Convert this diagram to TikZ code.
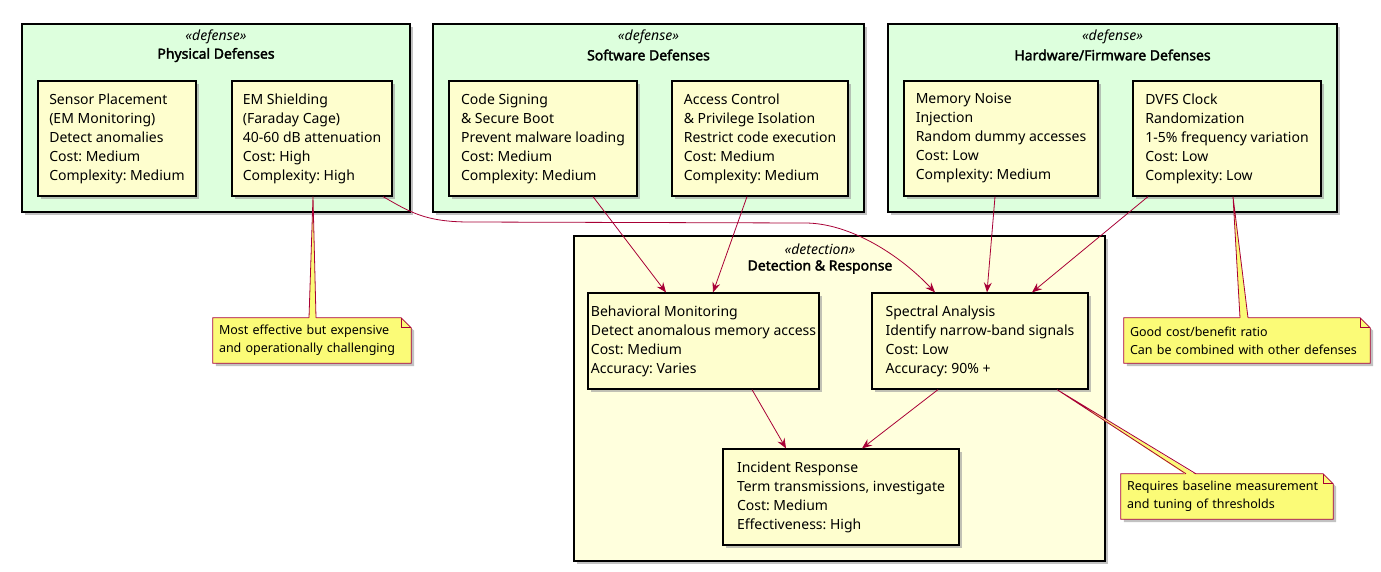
\documentclass[tikz,border=0pt]{standalone}
\usepackage{fontspec}
\setmainfont{Noto Sans}
\newfontfamily\fbold{Noto Sans}[FakeBold=2.2]
\usetikzlibrary{arrows.meta,shadows,calc}
\definecolor{pkgc}{HTML}{DDFFDD}
\definecolor{detc}{HTML}{FFFFDD}
\definecolor{boxc}{HTML}{FEFECE}
\definecolor{notec}{HTML}{FBFB77}
\definecolor{linkc}{HTML}{A80036}
\tikzset{
  shad/.style={drop shadow={shadow xshift=3pt,shadow yshift=-3pt,fill=black!40,opacity=0.6}},
  pkgbox/.style={draw=black, line width=1.2pt, fill=pkgc, inner sep=0pt, shad},
  itembox/.style={draw=black, line width=1.2pt, fill=boxc, inner sep=0pt, align=left,
     font=\fontsize{14}{19}\selectfont\frenchspacing, shad},
  stereo/.style={font=\fontsize{14}{16}\selectfont\itshape, inner sep=0pt},
  ptitle/.style={font=\fontsize{14}{16}\selectfont\fbold, inner sep=0pt},
  notetext/.style={inner xsep=6pt, inner ysep=0pt, align=left, font=\fontsize{12.5}{18}\selectfont\frenchspacing},
  link/.style={draw=linkc, line width=0.8pt, -{Stealth[length=10pt,width=8pt,inset=3.5pt]}},
  wedge/.style={fill=notec},
  wedgeline/.style={draw=linkc, line width=0.8pt},
}
\newcommand{\mynote}[1]{%
  \path[draw=linkc, line width=0.8pt, fill=notec, shad] (#1.north west) -- ([xshift=-10pt]#1.north east) -- ([yshift=-10pt]#1.north east) -- (#1.south east) -- (#1.south west) -- cycle;
  \draw[linkc, line width=0.8pt] ([xshift=-10pt]#1.north east) -- ([xshift=-10pt,yshift=-10pt]#1.north east) -- ([yshift=-10pt]#1.north east);
}
\begin{document}
\begin{tikzpicture}[x=1pt,y=-1pt]
\useasboundingbox (0,0) rectangle (1381,571);

% packages
\node[pkgbox, minimum width=388pt, minimum height=188pt] (phys) at (216,118) {};
\node[pkgbox, minimum width=431pt, minimum height=188pt] (soft) at (648.5,118) {};
\node[pkgbox, minimum width=449pt, minimum height=188pt] (hard) at (1112.5,118) {};
\node[pkgbox, fill=detc, minimum width=531pt, minimum height=325pt] (det) at (839.5,398.5) {};

\node[stereo] (physS) at (216,37) {«defense»};
\node[ptitle] (physT) at (216,55) {Physical Defenses};
\node[stereo] (softS) at (648.5,37) {«defense»};
\node[ptitle] (softT) at (648.5,55) {Software Defenses};
\node[stereo] (hardS) at (1112.5,37) {«defense»};
\node[ptitle] (hardT) at (1112.5,55) {Hardware/Firmware Defenses};
\node[stereo] (detS) at (820,249) {«detection»};
\node[ptitle] (detT) at (820,267) {Detection \& Response};

% items
\node[itembox, minimum width=158pt, minimum height=115pt] (sens) at (117,138.5)
  {Sensor Placement\\(EM Monitoring)\\Detect anomalies\\Cost: Medium\\Complexity: Medium};
\node[itembox, minimum width=160pt, minimum height=115pt] (ems) at (312,138.5)
  {EM Shielding\\(Faraday Cage)\\40-60 dB attenuation\\Cost: High\\Complexity: High};
\node[itembox, minimum width=188pt, minimum height=115pt] (code) at (543,138.5)
  {Code Signing\\\& Secure Boot\\Prevent malware loading\\Cost: Medium\\Complexity: Medium};
\node[itembox, minimum width=176pt, minimum height=115pt] (acc) at (760,138.5)
  {Access Control\\\& Privilege Isolation\\Restrict code execution\\Cost: Medium\\Complexity: Medium};
\node[itembox, minimum width=194pt, minimum height=115pt] (mem) at (1001,138.5)
  {Memory Noise\\Injection\\Random dummy accesses\\Cost: Low\\Complexity: Medium};
\node[itembox, minimum width=188pt, minimum height=115pt] (dvfs) at (1227,138.5)
  {DVFS Clock\\Randomization\\1-5\% frequency variation\\Cost: Low\\Complexity: Low};
\node[itembox, minimum width=231pt, minimum height=96pt] (beh) at (703.5,341)
  {Behavioral Monitoring\\Detect anomalous memory access\\Cost: Medium\\Accuracy: Varies};
\node[itembox, minimum width=216pt, minimum height=96pt] (spec) at (980,341)
  {Spectral Analysis\\Identify narrow-band signals\\Cost: Low\\Accuracy: 90\% +};
\node[itembox, minimum width=236pt, minimum height=96pt] (inc) at (841,497)
  {Incident Response\\Term transmissions, investigate\\Cost: Medium\\Effectiveness: High};

% links
\draw[link] ([xshift=50pt]code.south) -- ([xshift=-37.5pt]beh.north);
\draw[link] ([xshift=-13pt]acc.south) -- ([xshift=9.5pt]beh.north);
\draw[link] ([xshift=71pt]ems.south) .. controls (410,212) and (425,222) .. (470,222)
  -- (805,223) .. controls (850,223) and (900,255) .. ([xshift=-45pt]spec.north);
\draw[link] ([xshift=-6pt]mem.south) -- ([xshift=7pt]spec.north);
\draw[link] ([xshift=-79pt]dvfs.south) -- ([xshift=52pt]spec.north);
\draw[link] ([xshift=48.5pt]beh.south) -- ([xshift=-55pt]inc.north);
\draw[link] ([xshift=-42pt]spec.south) -- ([xshift=21pt]inc.north);

% notes
\node[notetext, text width=186pt, minimum height=45pt] (n1) at (312,340.5) {\phantom{x}};
\node[notetext, text width=234pt, minimum height=45pt] (n2) at (1247,340.5) {\phantom{x}};
\node[notetext, text width=200pt, minimum height=45pt] (n3) at (1227,496.5) {\phantom{x}};
\mynote{n1}
\mynote{n2}
\mynote{n3}
\node[notetext, text width=186pt, minimum height=45pt] (n1t) at (n1) {Most effective but expensive\\and operationally challenging};
\node[notetext, text width=234pt, minimum height=45pt] (n2t) at (n2) {Good cost/benefit ratio\\Can be combined with other defenses};
\node[notetext, text width=200pt, minimum height=45pt] (n3t) at (n3) {Requires baseline measurement\\and tuning of thresholds};

% wedges
\coordinate (w1a) at ([xshift=-3pt]n1.north);
\coordinate (w1b) at ([xshift=4pt]n1.north);
\fill[wedge] ([xshift=1pt]ems.south) -- ([yshift=-1pt]w1a) -- ([yshift=-1pt]w1b) -- cycle;
\draw[wedgeline] (w1a) -- ([xshift=1pt]ems.south) -- (w1b);
\coordinate (w2a) at ([xshift=-7pt]n2.north);
\coordinate (w2b) at ([xshift=1pt]n2.north);
\fill[wedge] ([xshift=6pt]dvfs.south) -- ([yshift=-1pt]w2a) -- ([yshift=-1pt]w2b) -- cycle;
\draw[wedgeline] (w2a) -- ([xshift=6pt]dvfs.south) -- (w2b);
\coordinate (w3a) at ([xshift=-41pt]n3.north);
\coordinate (w3b) at ([xshift=-31pt]n3.north);
\fill[wedge] ([xshift=77pt]spec.south) -- ([yshift=-1pt]w3a) -- ([yshift=-1pt]w3b) -- cycle;
\draw[wedgeline] (w3a) -- ([xshift=77pt]spec.south) -- (w3b);
\end{tikzpicture}
\end{document}
